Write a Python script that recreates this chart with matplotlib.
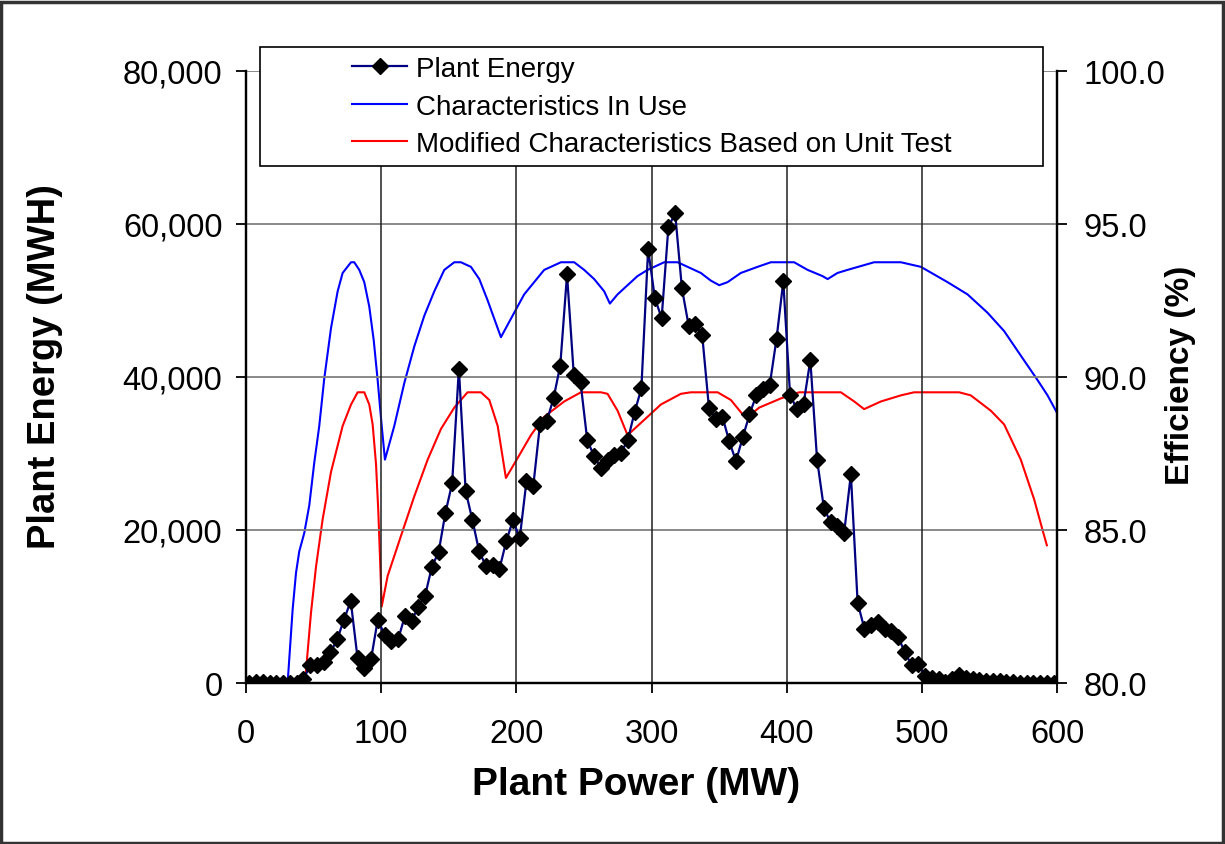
import numpy as np
import matplotlib
matplotlib.use("Agg")
import matplotlib.pyplot as plt
from matplotlib.lines import Line2D
from matplotlib.patches import Rectangle
from matplotlib.ticker import FuncFormatter

plt.rcParams['font.family'] = ['Liberation Sans', 'DejaVu Sans']

# Plant energy per 5 MW power bin (bin centres)
power_bins = np.arange(2.5, 600, 5)
plant_energy = [
    0, 100, 100, 0, 0, 0, 0, 0, 500, 2300,
    2400, 2800, 4000, 5700, 8300, 10700, 3300, 2000, 3100, 8300,
    6300, 5500, 5700, 8700, 8100, 10000, 11400, 15200, 17100, 22200,
    26100, 41100, 25100, 21300, 17200, 15300, 15400, 14900, 18500, 21300,
    18900, 26400, 25700, 33800, 34200, 37200, 41500, 53400, 40300, 39300,
    31700, 29700, 28100, 29100, 29800, 30100, 31800, 35400, 38500, 56700,
    50300, 47700, 59600, 61400, 51600, 46700, 46900, 45500, 36000, 34500,
    34800, 31600, 29000, 32100, 35100, 37600, 38400, 39000, 45000, 52500,
    37700, 35800, 36500, 42200, 29200, 22900, 21000, 20500, 19600, 27300,
    10500, 7100, 7600, 8000, 7100, 6800, 6000, 4000, 2300, 2500,
    900, 600, 500, 100, 500, 1000, 700, 500, 400, 300,
    200, 200, 100, 100, 0, 0, 0, 0, 0, 0,
]

# Efficiency characteristics currently in use
inuse_mw = [30.8, 34.5, 37.0, 39.4, 43.1, 46.8, 50.5, 54.2, 57.9, 62.9,
            67.8, 71.5, 77.7, 80.1, 83.8, 87.5, 91.2, 94.5, 97.4, 100.4,
            102.8, 109.7, 117.1, 124.5, 131.9, 139.3, 146.7, 154.1, 159.0, 166.4,
            172.6, 178.8, 183.7, 188.6, 198.4, 205.8, 213.2, 220.6, 233.0, 242.8,
            250.2, 257.6, 265.0, 269.2, 274.9, 282.3, 289.7, 297.1, 309.4, 319.3,
            326.7, 336.5, 343.9, 350.1, 356.3, 366.1, 378.5, 388.3, 405.5, 415.5,
            426.4, 430.3, 437.6, 445.0, 464.7, 484.5, 499.3, 519.0, 533.8, 548.6,
            560.9, 573.2, 585.6, 593.0, 601.6]
inuse_eff = [80.0, 82.4, 83.6, 84.3, 84.9, 85.8, 87.2, 88.4, 89.95, 91.6,
             92.8, 93.4, 93.75, 93.75, 93.5, 93.1, 92.3, 91.2, 89.9, 88.4,
             87.3, 88.4, 89.8, 91.0, 92.0, 92.8, 93.5, 93.75, 93.75, 93.6,
             93.2, 92.5, 91.9, 91.3, 92.1, 92.7, 93.1, 93.5, 93.75, 93.75,
             93.5, 93.2, 92.8, 92.4, 92.7, 93.0, 93.3, 93.5, 93.75, 93.75,
             93.6, 93.4, 93.15, 93.0, 93.1, 93.4, 93.6, 93.75, 93.75, 93.5,
             93.3, 93.2, 93.4, 93.5, 93.75, 93.75, 93.6, 93.1, 92.7, 92.1,
             91.5, 90.7, 89.9, 89.4, 88.7]

# Modified characteristics based on unit test
test_mw = [43.6, 48.1, 51.8, 56.7, 62.9, 71.5, 77.7, 82.6, 87.5, 91.2,
           93.7, 96.2, 97.9, 99.3, 100.4, 104.8, 114.6, 124.5, 134.4, 144.2,
           154.1, 163.9, 173.8, 180.0, 186.2, 192.3, 201.6, 210.8, 220.6, 235.4,
           247.8, 262.6, 267.5, 274.9, 282.3, 289.7, 297.1, 306.9, 321.7, 329.1,
           348.9, 358.7, 369.8, 379.7, 395.7, 409.2, 440.1, 450.0, 457.3, 469.7,
           484.5, 494.3, 527.6, 536.2, 551.0, 560.9, 573.2, 583.1, 589.3, 592.5]
test_eff = [80.0, 82.3, 83.8, 85.35, 86.9, 88.4, 89.1, 89.5, 89.5, 89.1,
            88.45, 87.15, 85.6, 83.9, 82.5, 83.5, 84.8, 86.1, 87.3, 88.3,
            89.0, 89.5, 89.5, 89.25, 88.4, 86.7, 87.4, 88.1, 88.7, 89.2,
            89.5, 89.5, 89.45, 88.9, 88.1, 88.4, 88.7, 89.1, 89.45, 89.5,
            89.5, 89.25, 88.65, 89.0, 89.3, 89.5, 89.5, 89.2, 88.95, 89.2,
            89.4, 89.5, 89.5, 89.4, 88.9, 88.45, 87.3, 86.0, 85.0, 84.5]

energy_ticks = [0, 20000, 40000, 60000, 80000]
eff_ticks = [80.0, 85.0, 90.0, 95.0, 100.0]
power_ticks = [0, 100, 200, 300, 400, 500, 600]

W, H = 1225, 845
fig = plt.figure(figsize=(W / 100, H / 100), dpi=100)
ax = fig.add_axes([246 / W, 1 - 684 / H, (1057 - 246) / W, (684 - 72) / H])
ax2 = ax.twinx()

# Grid: grey horizontal, dark vertical
for y in energy_ticks[1:]:
    ax.axhline(y, color='#808080', lw=1.3, zorder=0)
for x in power_ticks[1:]:
    ax.axvline(x, color='#202020', lw=1.1, zorder=0)

ax.plot(power_bins, plant_energy, color='#000080', lw=1.6, marker='D',
        markersize=8.5, markerfacecolor='black', markeredgecolor='black', zorder=3)
ax.set_zorder(ax2.get_zorder() + 1)
ax.patch.set_visible(False)

ax2.plot(inuse_mw, inuse_eff, color='#0000FF', lw=1.5)
ax2.plot(test_mw, test_eff, color='#FF0000', lw=1.5)

ax.set_xlim(0, 600)
ax.set_ylim(0, 80000)
ax2.set_ylim(80, 100)

ax.set_xticks(power_ticks)
ax.set_yticks(energy_ticks)
ax2.set_yticks(eff_ticks)
ax.yaxis.set_major_formatter(FuncFormatter(lambda v, p: f"{v:,.0f}"))
ax2.yaxis.set_major_formatter(FuncFormatter(lambda v, p: f"{v:.1f}"))

for a in (ax, ax2):
    a.spines['top'].set_visible(False)
    for s in ('left', 'right', 'bottom'):
        a.spines[s].set_linewidth(1.6)
        a.spines[s].set_color('black')
ax.tick_params(axis='x', direction='out', length=7, width=1.3, labelsize=23.5, pad=18)
ax.tick_params(axis='y', direction='out', length=7, width=1.3, labelsize=23.5, pad=10)
ax2.tick_params(axis='y', direction='out', length=7, width=1.3, labelsize=23.5, pad=12)

# Axis titles
fig.text(636 / W, 1 - 785 / H, 'Plant Power (MW)', fontsize=28, fontweight='bold',
         ha='center', va='center')
fig.text(45 / W, 1 - 367 / H, 'Plant Energy (MWH)', fontsize=27.5, fontweight='bold',
         ha='center', va='center', rotation=90)
fig.text(1180 / W, 1 - 375 / H, 'Efficiency (%)', fontsize=24, fontweight='bold',
         ha='center', va='center', rotation=90)

# Legend box overlapping the top of the plot
x0, x1 = 260 / W, 1043 / W
y0, y1 = 1 - 167 / H, 1 - 48 / H
fig.patches.append(Rectangle((x0, y0), x1 - x0, y1 - y0, transform=fig.transFigure,
                             facecolor='white', edgecolor='black', lw=1.2, zorder=4))
handles = [
    Line2D([], [], color='#000080', lw=1.6, marker='D', markersize=8.5,
           markerfacecolor='black', markeredgecolor='black'),
    Line2D([], [], color='#0000FF', lw=1.5),
    Line2D([], [], color='#FF0000', lw=1.5),
]
labels = ['Plant Energy', 'Characteristics In Use',
          'Modified Characteristics Based on Unit Test']
leg = fig.legend(handles, labels, loc='center', bbox_to_anchor=((x0 + x1) / 2, (y0 + y1) / 2),
                 frameon=False, fontsize=20, handlelength=2.0, handletextpad=0.3,
                 labelspacing=0.42)
leg.set_zorder(6)

# Outer figure border
fig.patches.append(Rectangle((0.001, 0.001), 0.997, 0.996, transform=fig.transFigure,
                             facecolor='none', edgecolor='#333333', lw=2.5, zorder=7))

fig.savefig('out.png', dpi=100)
